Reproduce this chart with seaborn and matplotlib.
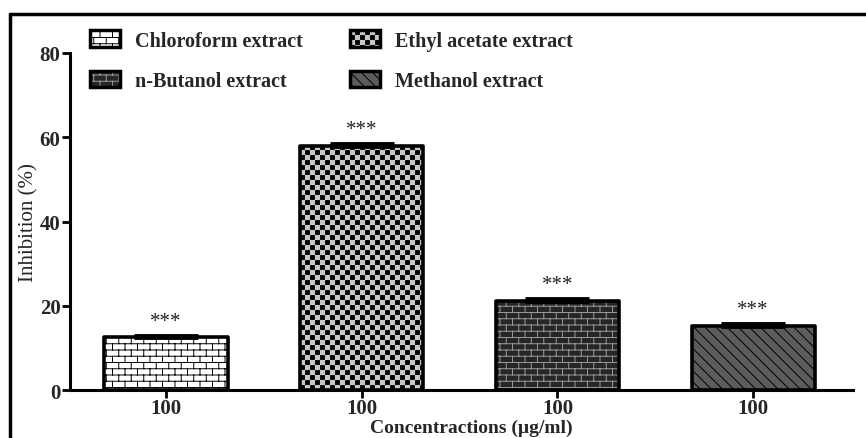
import warnings
import numpy as np
import matplotlib
matplotlib.use("Agg")
import matplotlib.pyplot as plt
import matplotlib.hatch as mhatch
from matplotlib.path import Path
import seaborn as sns
import pandas as pd
from matplotlib.patches import Patch, Rectangle
from matplotlib.lines import Line2D

warnings.filterwarnings("ignore")

# values
extracts = ["Chloroform extract", "Ethyl acetate extract", "n-Butanol extract", "Methanol extract"]
inhibition = [12.5, 58.0, 21.2, 15.2]
errors = [0.3, 0.4, 0.5, 0.4]
tick_labels = ["100", "100", "100", "100"]
stars = ["***", "***", "***", "***"]

# bar styles: face, hatch, hatch colour
faces = ["white", "#c8c8c8", "#262626", "#5c5c5c"]
hatches = ["b", "c", "b", "\\\\\\"]
hatch_cols = ["black", "black", "#9a9a9a", "black"]


# brick and checkerboard hatches (not in matplotlib)
class BrickHatch(mhatch.HatchPatternBase):
    def __init__(self, hatch, density):
        n = hatch.count("b") * 16
        segs = []
        if n:
            h = 1.0 / n
            w = 2.0 * h
            for i in range(n + 1):
                segs.append(((0, i * h), (1, i * h)))
            for i in range(n):
                off = (i % 2) * w / 2
                for x in np.arange(off, 1.0 + 1e-9, w):
                    segs.append(((x, i * h), (x, (i + 1) * h)))
        self.segs = segs
        self.num_vertices = 2 * len(segs)

    def set_vertices_and_codes(self, vertices, codes):
        for k, (a, b) in enumerate(self.segs):
            vertices[2 * k] = a
            vertices[2 * k + 1] = b
            codes[2 * k] = Path.MOVETO
            codes[2 * k + 1] = Path.LINETO


class CheckerHatch(mhatch.HatchPatternBase):
    def __init__(self, hatch, density):
        n = hatch.count("c") * 20
        cells = []
        if n:
            s = 1.0 / n
            for i in range(n):
                for j in range(n):
                    if (i + j) % 2 == 0:
                        cells.append((j * s, i * s, s))
        self.cells = cells
        self.num_vertices = 5 * len(cells)

    def set_vertices_and_codes(self, vertices, codes):
        for k, (x, y, s) in enumerate(self.cells):
            d = s * 0.12
            vertices[5 * k:5 * k + 5] = [(x + d, y + d), (x + s - d, y + d),
                                         (x + s - d, y + s - d), (x + d, y + s - d),
                                         (x + d, y + d)]
            codes[5 * k:5 * k + 5] = [Path.MOVETO, Path.LINETO, Path.LINETO,
                                      Path.LINETO, Path.CLOSEPOLY]


mhatch._hatch_types.extend([BrickHatch, CheckerHatch])

sns.set_theme(style="ticks")
plt.rcParams["font.family"] = ["Liberation Serif", "DejaVu Serif"]
plt.rcParams["hatch.linewidth"] = 0.7

df = pd.DataFrame({"extract": extracts, "inhibition": inhibition})

fig = plt.figure(figsize=(8.66, 4.39), dpi=100)
ax = fig.add_axes([0.081, 0.109, 0.904, 0.768])

sns.barplot(data=df, x="extract", y="inhibition", order=extracts, width=0.63,
            errorbar=None, color="white", ax=ax)

for p, fc, h, hc in zip(ax.patches, faces, hatches, hatch_cols):
    p.set_facecolor(fc)
    p.set_hatch(h)
    p.set_edgecolor(hc)
    p.set_linewidth(0)
    # black outline drawn on top
    ax.add_patch(Rectangle((p.get_x(), p.get_y()), p.get_width(), p.get_height(),
                           fill=False, edgecolor="black", linewidth=2.6,
                           joinstyle="round", zorder=3))

# small error bars, upper side only
xs = range(len(extracts))
ax.errorbar(xs, inhibition, yerr=[[0] * 4, errors], fmt="none", ecolor="black",
            elinewidth=2, capsize=23, capthick=3.5, zorder=4)

for x, v, e, s in zip(xs, inhibition, errors, stars):
    ax.text(x, v + e + 1.2, s, ha="center", va="bottom", fontsize=15, color="#222222")

ax.set_ylim(0, 80)
ax.set_xlim(-0.49, 3.51)
ax.set_yticks([0, 20, 40, 60, 80])
ax.set_xticks(list(xs))
ax.set_xticklabels(tick_labels)
for lab in ax.get_xticklabels() + ax.get_yticklabels():
    lab.set_fontweight("bold")
    lab.set_fontsize(15)
ax.tick_params(width=2, length=6, color="black", pad=1)
ax.tick_params(axis="x", pad=0)

ax.set_ylabel("Inhibition (%)", fontsize=15)
ax.yaxis.set_label_coords(-0.041, 0.5)
ax.set_xlabel("Concentractions (µg/ml)", fontsize=14, fontweight="bold")
ax.xaxis.set_label_coords(0.513, -0.086)

sns.despine(ax=ax)
for side in ["left", "bottom"]:
    ax.spines[side].set_linewidth(2.2)
    ax.spines[side].set_color("black")

# legend in two columns above the bars
handles = [(Patch(facecolor=fc, edgecolor=hc, hatch=h, linewidth=0),
            Patch(fill=False, edgecolor="black", linewidth=2.5, joinstyle="round"))
           for fc, h, hc in zip(faces, hatches, hatch_cols)]
order = [0, 2, 1, 3]
leg = ax.legend([handles[i] for i in order], [extracts[i] for i in order],
                ncol=2, loc="upper left", bbox_to_anchor=(0.005, 1.115),
                frameon=False, prop={"weight": "bold", "size": 14.5},
                handlelength=1.5, handleheight=0.9, labelspacing=1.0,
                columnspacing=2.3, handletextpad=0.75, borderpad=0.3)

# frame around the figure
fig.add_artist(Line2D([0.012, 0.012], [0.0, 0.966], color="black", linewidth=2.5))
fig.add_artist(Line2D([0.012, 1.0], [0.966, 0.966], color="black", linewidth=2.5))

fig.savefig("out.png", dpi=100)
